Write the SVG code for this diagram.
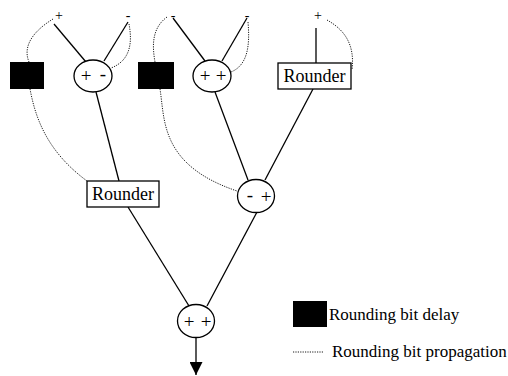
<svg xmlns="http://www.w3.org/2000/svg" width="508" height="376" viewBox="0 0 508 376">
<defs>
<marker id="arr" viewBox="0 0 10 10" refX="10" refY="5" markerWidth="13" markerHeight="13" markerUnits="userSpaceOnUse" orient="auto">
<path d="M0,0 L10,5 L0,10 z" fill="#000"/>
</marker>
</defs>
<g id="connectors" fill="none" stroke="#000">
<g stroke-width="1.3">
<line x1="54" y1="24" x2="86" y2="62"/>
<line x1="128" y1="22" x2="104" y2="61"/>
<line x1="173" y1="18" x2="205" y2="61"/>
<line x1="247" y1="18" x2="222" y2="61"/>
<line x1="316" y1="28" x2="316" y2="63"/>
<line x1="96" y1="92" x2="119" y2="181"/>
<line x1="215" y1="92" x2="248" y2="180"/>
<line x1="313" y1="89" x2="265" y2="180"/>
<line x1="128" y1="207" x2="189" y2="306"/>
<line x1="257" y1="212" x2="207" y2="306"/>
<line x1="196" y1="338" x2="196" y2="375" marker-end="url(#arr)"/>
</g>
<g stroke-width="0.9" stroke-dasharray="1.2 1.2">
<path d="M53,19 C35,30 22,45 29,62"/>
<path d="M129,24 C132,40 132,60 111,68"/>
<path d="M167,17 C152,28 152,45 155,62"/>
<path d="M248,22 C250,45 248,65 231,72"/>
<path d="M327,20 C345,30 355,45 352,70"/>
<path d="M30,89 C35,115 45,150 87,181"/>
<path d="M160,89 C165,120 160,165 237,191"/>
</g>
</g>
<g id="top-labels" fill="#000" text-anchor="middle" font-family="Liberation Serif" font-size="14">
<text x="59" y="20">+</text>
<text x="128" y="20">-</text>
<text x="173" y="20">-</text>
<text x="247" y="20">-</text>
<text x="318" y="20">+</text>
</g>
<g id="delay1"><rect fill="#000" x="10" y="62" width="34" height="27"/></g>
<g id="adder1" text-anchor="middle" font-family="Liberation Serif" font-size="19">
<ellipse fill="#fff" stroke="#000" stroke-width="1.3" cx="93" cy="76" rx="19" ry="16"/>
<text x="86" y="82">+</text>
<text x="103" y="80">-</text>
</g>
<g id="delay2"><rect fill="#000" x="138" y="62" width="36" height="27"/></g>
<g id="adder2" text-anchor="middle" font-family="Liberation Serif" font-size="19">
<ellipse fill="#fff" stroke="#000" stroke-width="1.3" cx="212" cy="76" rx="19" ry="16"/>
<text x="205" y="82">+</text>
<text x="221" y="82">+</text>
</g>
<g id="rounder2" text-anchor="middle" font-family="Liberation Serif" font-size="18">
<rect fill="#fff" stroke="#000" stroke-width="1.3" x="278" y="63" width="73" height="26"/>
<text x="314.5" y="82">Rounder</text>
</g>
<g id="rounder1" text-anchor="middle" font-family="Liberation Serif" font-size="18">
<rect fill="#fff" stroke="#000" stroke-width="1.3" x="87" y="181" width="72" height="26"/>
<text x="123" y="200">Rounder</text>
</g>
<g id="adder3" text-anchor="middle" font-family="Liberation Serif" font-size="19">
<ellipse fill="#fff" stroke="#000" stroke-width="1.3" cx="256" cy="196" rx="18.5" ry="16.5"/>
<text x="250" y="201">-</text>
<text x="266" y="203">+</text>
</g>
<g id="adder4" text-anchor="middle" font-family="Liberation Serif" font-size="19">
<ellipse fill="#fff" stroke="#000" stroke-width="1.3" cx="196" cy="321" rx="18.5" ry="16.5"/>
<text x="189" y="328">+</text>
<text x="206" y="328">+</text>
</g>
<g id="legend" font-family="Liberation Serif" font-size="17">
<rect fill="#000" x="293" y="301" width="34" height="26"/>
<text x="329" y="320">Rounding bit delay</text>
<line stroke="#000" stroke-width="0.9" stroke-dasharray="1.2 1.2" x1="293" y1="352" x2="323" y2="352"/>
<text x="332" y="357">Rounding bit propagation</text>
</g>
</svg>
